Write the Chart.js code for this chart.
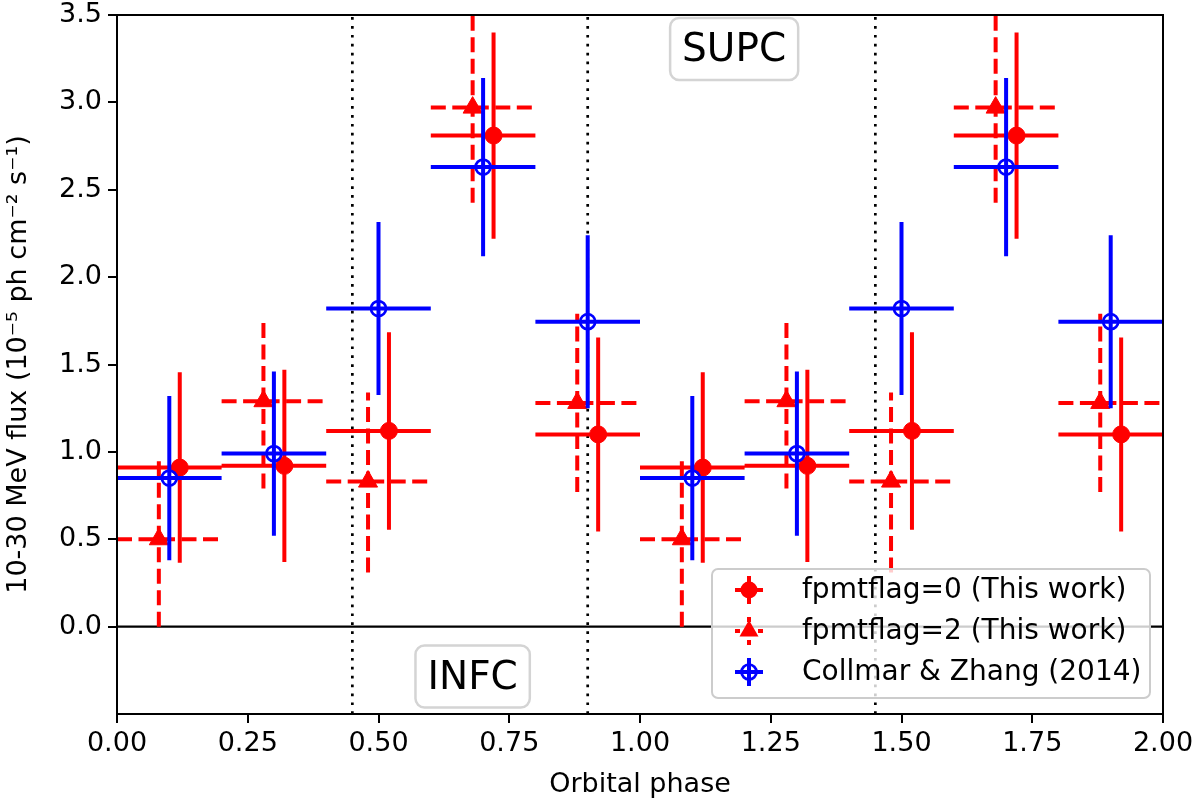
<!DOCTYPE html>
<html>
<head>
<meta charset="utf-8">
<script src="https://cdn.jsdelivr.net/npm/chart.js@4.4.0/dist/chart.umd.min.js"></script>
<style>
  html, body { margin: 0; padding: 0; background: #fff; }
  #wrap { width: 1200px; height: 803px; position: relative; }
</style>
</head>
<body>
<div id="wrap"><canvas id="grafico"></canvas></div>
<script>
// bin di fase (uguali per le tre serie)
const binInizio = [0.0, 0.2, 0.4, 0.6, 0.8, 1.0, 1.2, 1.4, 1.6, 1.8];
const binFine   = [0.2, 0.4, 0.6, 0.8, 1.0, 1.2, 1.4, 1.6, 1.8, 2.0];

// fpmtflag=0 (cerchi pieni)
const fase0   = [0.12, 0.32, 0.52, 0.72, 0.92, 1.12, 1.32, 1.52, 1.72, 1.92];
const flusso0 = [0.91, 0.92, 1.12, 2.81, 1.10, 0.91, 0.92, 1.12, 2.81, 1.10];
const errGiu0 = [0.545, 0.55, 0.565, 0.59, 0.555, 0.545, 0.55, 0.565, 0.59, 0.555];
const errSu0  = [0.545, 0.55, 0.565, 0.59, 0.555, 0.545, 0.55, 0.565, 0.59, 0.555];

// fpmtflag=2 (triangoli, tratteggio)
const fase2   = [0.08, 0.28, 0.48, 0.68, 0.88, 1.08, 1.28, 1.48, 1.68, 1.88];
const flusso2 = [0.50, 1.29, 0.83, 2.97, 1.28, 0.50, 1.29, 0.83, 2.97, 1.28];
const errGiu2 = [0.50, 0.50, 0.52, 0.545, 0.51, 0.50, 0.50, 0.52, 0.545, 0.51];
const errSu2  = [0.475, 0.48, 0.51, 0.545, 0.51, 0.475, 0.48, 0.51, 0.545, 0.51];

// Collmar & Zhang (2014)
const faseCZ   = [0.10, 0.30, 0.50, 0.70, 0.90, 1.10, 1.30, 1.50, 1.70, 1.90];
const flussoCZ = [0.85, 0.99, 1.82, 2.63, 1.745, 0.85, 0.99, 1.82, 2.63, 1.745];
const errCZ    = [0.47, 0.47, 0.495, 0.51, 0.495, 0.47, 0.47, 0.495, 0.51, 0.495];

const nomiSerie = ['fpmtflag=0 (This work)', 'fpmtflag=2 (This work)', 'Collmar & Zhang (2014)'];

// linee di riferimento
const fasiPunteggiate = [0.45, 0.90, 1.45];
const xTicks = [0, 0.25, 0.5, 0.75, 1.0, 1.25, 1.5, 1.75, 2.0];
const yTicks = [0, 0.5, 1.0, 1.5, 2.0, 2.5, 3.0, 3.5];

// etichette nel grafico
const etichette = ['SUPC', 'INFC'];
const etichetteX = [1.18, 0.68];
const etichetteY = [3.305, -0.285];

const ROSSO = '#ff0000', BLU = '#0000ff';
const FONT = "'DejaVu Sans', sans-serif";
const TRATTO = [15, 6.5];

function barreErrore(xs, ys, giu, su) {
    let pts = [];
    for (let i = 0; i < xs.length; i++) {
        pts.push({x: binInizio[i], y: ys[i]}, {x: binFine[i], y: ys[i]}, {x: xs[i], y: null});
        pts.push({x: xs[i], y: ys[i] - giu[i]}, {x: xs[i], y: ys[i] + su[i]}, {x: xs[i], y: null});
    }
    return pts;
}

function punti(xs, ys) {
    return xs.map((x, i) => ({x: x, y: ys[i]}));
}

let rifPunti = [];
fasiPunteggiate.forEach(f => rifPunti.push({x: f, y: -0.5}, {x: f, y: 3.5}, {x: f, y: null}));

const lineaBarre = (data, col, dash, ord) => ({
    type: 'line', data: data, borderColor: col, borderWidth: 4, borderDash: dash,
    pointRadius: 0, pointHitRadius: 0, spanGaps: false, tension: 0, fill: false,
    borderCapStyle: 'butt', clip: 0, order: ord
});

// bordo, etichette SUPC/INFC, legenda
const decorazioni = {
    id: 'decorazioni',
    afterDatasetsDraw(chart) {
        const ctx = chart.ctx, a = chart.chartArea;
        const sx = chart.scales.x, sy = chart.scales.y;
        ctx.save();
        ctx.strokeStyle = '#000';
        ctx.lineWidth = 2;
        ctx.strokeRect(a.left, a.top, a.right - a.left, a.bottom - a.top);

        ctx.font = '39px ' + FONT;
        ctx.textAlign = 'center';
        ctx.textBaseline = 'middle';
        etichette.forEach((t, i) => {
            const cx = sx.getPixelForValue(etichetteX[i]);
            const cy = sy.getPixelForValue(etichetteY[i]);
            const w = ctx.measureText(t).width + 24, h = 62;
            ctx.beginPath();
            ctx.roundRect(cx - w / 2, cy - h / 2, w, h, 9);
            ctx.fillStyle = 'rgba(255,255,255,0.8)';
            ctx.fill();
            ctx.strokeStyle = '#d4d4d4';
            ctx.lineWidth = 2.5;
            ctx.stroke();
            ctx.fillStyle = '#000';
            ctx.fillText(t, cx, cy + 2);
        });
        ctx.restore();
    },
    afterDraw(chart) {
        const ctx = chart.ctx, a = chart.chartArea;
        const w = 438, h = 129;
        const lx = a.right - 13 - w, ly = a.bottom - 16 - h;
        ctx.save();
        ctx.beginPath();
        ctx.roundRect(lx, ly, w, h, 6);
        ctx.fillStyle = 'rgba(255,255,255,0.8)';
        ctx.fill();
        ctx.strokeStyle = '#cccccc';
        ctx.lineWidth = 2;
        ctx.stroke();

        const colori = [ROSSO, ROSSO, BLU];
        const stili = ['circle', 'triangle', 'open'];
        for (let i = 0; i < nomiSerie.length; i++) {
            const mx = lx + 37, my = ly + 21 + i * 41;
            ctx.strokeStyle = colori[i];
            ctx.fillStyle = colori[i];
            ctx.lineWidth = 4;
            ctx.setLineDash(i === 1 ? [5, 18] : []);
            ctx.beginPath();
            ctx.moveTo(mx - 14, my); ctx.lineTo(mx + 14, my);
            ctx.moveTo(mx, my - 14); ctx.lineTo(mx, my + 14);
            ctx.stroke();
            ctx.setLineDash([]);
            if (stili[i] === 'circle') {
                ctx.beginPath(); ctx.arc(mx, my, 8.5, 0, Math.PI * 2); ctx.fill();
            } else if (stili[i] === 'triangle') {
                ctx.beginPath();
                ctx.moveTo(mx, my - 11);
                ctx.lineTo(mx + 9.5, my + 5.5);
                ctx.lineTo(mx - 9.5, my + 5.5);
                ctx.closePath(); ctx.fill();
            } else {
                ctx.lineWidth = 2.7;
                ctx.beginPath(); ctx.arc(mx, my, 7.5, 0, Math.PI * 2); ctx.stroke();
            }
            ctx.fillStyle = '#000';
            ctx.font = '28px ' + FONT;
            ctx.textAlign = 'left';
            ctx.textBaseline = 'middle';
            ctx.fillText(nomiSerie[i], lx + 90, my + 1);
        }
        ctx.restore();
    }
};

const ctx = document.getElementById('grafico').getContext('2d');
new Chart(ctx, {
    type: 'scatter',
    data: {
        datasets: [
            // riferimenti
            { type: 'line', data: rifPunti, borderColor: '#000', borderWidth: 2.7, borderDash: [2.7, 6.2],
              pointRadius: 0, spanGaps: false, clip: 0, order: 20 },
            { type: 'line', data: [{x: 0, y: 0}, {x: 2, y: 0}], borderColor: '#000', borderWidth: 2.2,
              pointRadius: 0, clip: 0, order: 19 },
            // fpmtflag=0
            lineaBarre(barreErrore(fase0, flusso0, errGiu0, errSu0), ROSSO, [], 8),
            { label: nomiSerie[0], data: punti(fase0, flusso0), pointStyle: 'circle', pointRadius: 8.5,
              backgroundColor: ROSSO, borderColor: ROSSO, borderWidth: 1, order: 7 },
            // fpmtflag=2
            lineaBarre(barreErrore(fase2, flusso2, errGiu2, errSu2), ROSSO, TRATTO, 6),
            { label: nomiSerie[1], data: punti(fase2, flusso2), pointStyle: 'triangle', pointRadius: 11,
              backgroundColor: ROSSO, borderColor: ROSSO, borderWidth: 1, order: 5 },
            // Collmar & Zhang
            lineaBarre(barreErrore(faseCZ, flussoCZ, errCZ, errCZ), BLU, [], 4),
            { label: nomiSerie[2], data: punti(faseCZ, flussoCZ), pointStyle: 'circle', pointRadius: 7.5,
              backgroundColor: 'rgba(0,0,0,0)', borderColor: BLU, borderWidth: 2.7, order: 3 }
        ]
    },
    options: {
        responsive: true, maintainAspectRatio: false, animation: false,
        layout: { padding: { left: 0, right: 37, top: 15, bottom: 0 } },
        plugins: { legend: { display: false }, tooltip: { enabled: false } },
        scales: {
            x: {
                type: 'linear', min: 0, max: 2,
                afterBuildTicks: (s) => { s.ticks = xTicks.map(v => ({value: v})); },
                afterFit: (s) => { s.height = 89; },
                ticks: { color: '#000', font: { family: FONT, size: 27 }, padding: 5, maxRotation: 0, autoSkip: false,
                         callback: (v) => Number(v).toFixed(2) },
                grid: { drawOnChartArea: false, drawTicks: true, tickLength: 9, color: '#000', lineWidth: 2 },
                border: { display: true, color: '#000', width: 2 },
                title: { display: true, text: 'Orbital phase', color: '#000', font: { family: FONT, size: 27 },
                         padding: { top: 0, bottom: 2 } }
            },
            y: {
                type: 'linear', min: -0.5, max: 3.5,
                afterBuildTicks: (s) => { s.ticks = yTicks.map(v => ({value: v})); },
                afterFit: (s) => { s.width = 117; s.paddingTop = 0; s.paddingBottom = 0; },
                ticks: { color: '#000', font: { family: FONT, size: 27 }, padding: 6,
                         callback: (v) => Number(v).toFixed(1) },
                grid: { drawOnChartArea: false, drawTicks: true, tickLength: 9, color: '#000', lineWidth: 2 },
                border: { display: true, color: '#000', width: 2 },
                title: { display: true, text: '10-30 MeV flux (10⁻⁵ ph cm⁻² s⁻¹)', color: '#000',
                         font: { family: FONT, size: 27 }, padding: { top: 3, bottom: 0 } }
            }
        }
    },
    plugins: [decorazioni]
});
</script>
</body>
</html>
